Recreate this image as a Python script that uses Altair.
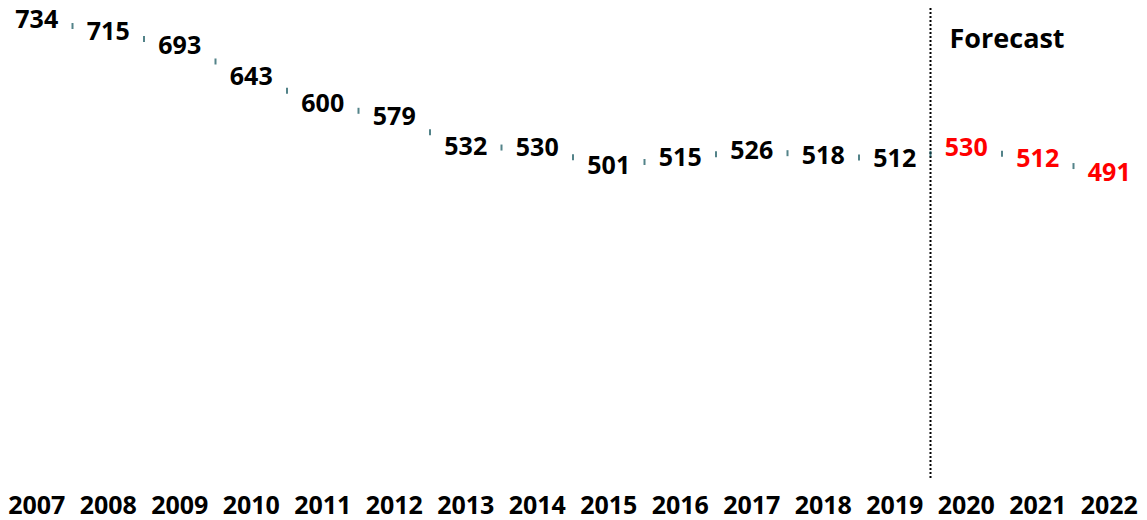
import altair as alt
import pandas as pd

years = [str(y) for y in range(2007, 2023)]
values = [734, 715, 693, 643, 600, 579, 532, 530, 501, 515, 526, 518, 512, 530, 512, 491]
segment = ["Actual"] * 13 + ["Forecast"] * 3
forecast_start = ["2020"]
forecast_text = ["Forecast"]

df = pd.DataFrame({"year": years, "value": values, "segment": segment})
fc = pd.DataFrame({"year": forecast_start, "label": forecast_text})

FONT = "Open Sans"
FS = 25
H = 471

xs = alt.Scale(paddingInner=0, paddingOuter=0)
ys = alt.Scale(domain=[0, 750], nice=False)

x_axis = alt.Axis(title=None, labelAngle=0, domain=False, ticks=False, grid=False,
                  labelFont=FONT, labelFontWeight="bold", labelFontSize=FS,
                  labelColor="black", labelPadding=12)

base = alt.Chart(df)

ticks = base.transform_window(
    next_value="lead(value)", sort=[{"field": "year"}]
).transform_filter("datum.next_value != null").transform_calculate(
    mid="(datum.value + datum.next_value) / 2"
).mark_tick(orient="vertical", size=6, thickness=2, color="#0a4f57").encode(
    x=alt.X("year:N", bandPosition=1, scale=xs, axis=x_axis),
    y=alt.Y("mid:Q", scale=ys, axis=None),
)

labels = base.mark_text(font=FONT, fontWeight="bold", fontSize=FS,
                        align="center", baseline="middle").encode(
    x=alt.X("year:N", scale=xs, axis=x_axis),
    y=alt.Y("value:Q", scale=ys, axis=None),
    text="value:Q",
    color=alt.Color("segment:N", scale=alt.Scale(domain=["Actual", "Forecast"],
                                                 range=["#000000", "#ff0000"]),
                    legend=None),
)

rule = alt.Chart(fc).mark_rule(strokeDash=[2, 2], strokeWidth=2, color="black").encode(
    x=alt.X("year:N", bandPosition=0, scale=xs, axis=x_axis),
    y=alt.value(-2),
    y2=alt.value(H - 1),
)

fc_text = alt.Chart(fc).mark_text(font=FONT, fontWeight="bold", fontSize=27,
                                  align="left", baseline="middle", dx=19,
                                  color="black").encode(
    x=alt.X("year:N", bandPosition=0, scale=xs, axis=x_axis),
    y=alt.value(30),
    text="label:N",
)

chart = alt.layer(rule, ticks, labels, fc_text).properties(
    width=1144, height=H,
    autosize=alt.AutoSizeParams(type="none"),
    padding={"left": -7, "top": 2, "right": -6, "bottom": 38},
).configure_view(stroke=None)

chart.save("out.html", embed_options={"renderer": "svg", "actions": False})
